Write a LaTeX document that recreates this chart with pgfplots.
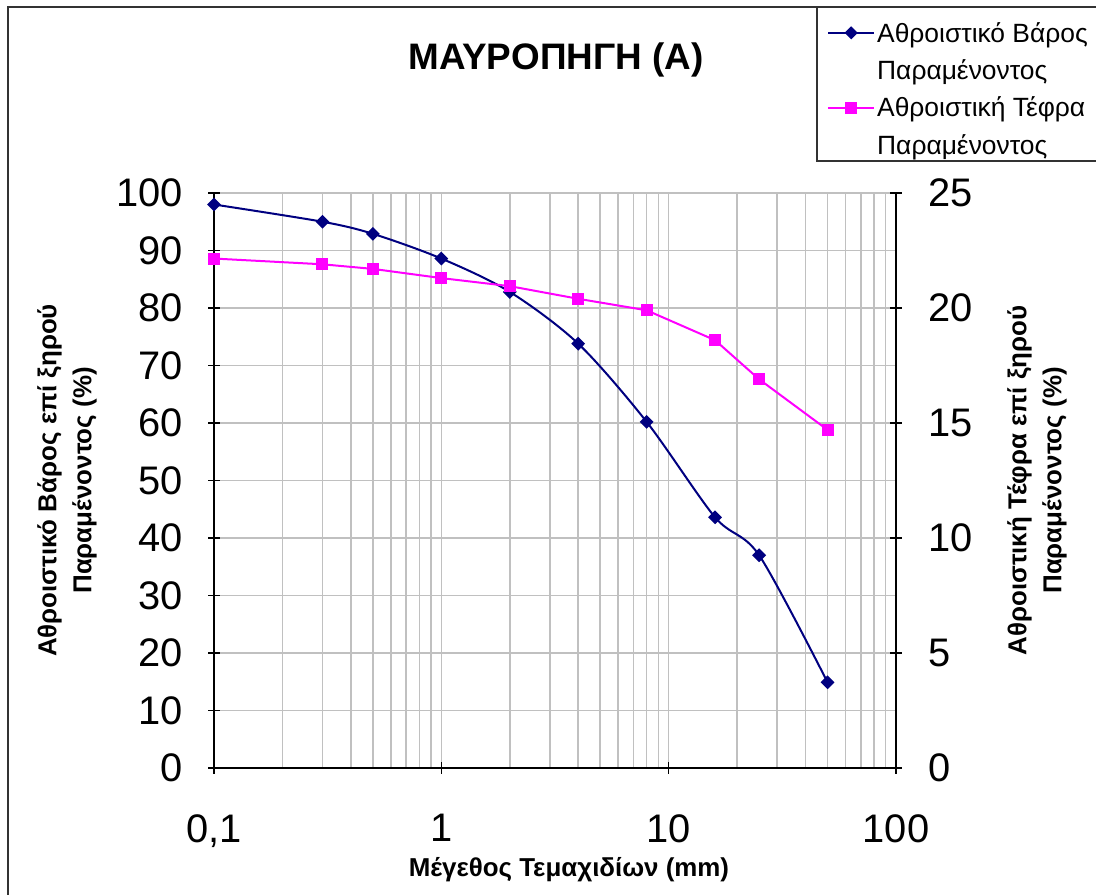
\documentclass[border=0pt]{standalone}
\usepackage{fontspec}
\setmainfont{Liberation Sans}
\usepackage{pgfplots}
\pgfplotsset{compat=1.18}
\definecolor{navyc}{RGB}{0,0,128}
\definecolor{magc}{RGB}{255,0,255}
\definecolor{gridc}{RGB}{192,192,192}
\begin{document}
\begin{tikzpicture}
\useasboundingbox (0,0) rectangle (1096bp,895bp);
\fill[white] (0,0) rectangle (1096bp,895bp);
\draw[line width=1.5bp, black!80] (8bp,-20bp) rectangle (1120bp,888bp);
\draw[line width=1.5bp, black!80] (817bp,734bp) rectangle (1120bp,888bp);
\node[font=\fontsize{37}{37}\selectfont\bfseries] at (556bp,835bp) {ΜΑΥΡΟΠΗΓΗ (Α)};
\begin{axis}[
  scale only axis, width=682bp, height=575bp,
  at={(214bp,127bp)}, anchor=south west,
  xmode=log, xmin=0.1, xmax=100, ymin=0, ymax=100,
  tick label style={font=\fontsize{40}{40}\selectfont, inner sep=0pt},
  xticklabel style={yshift=-40bp},
  yticklabel style={xshift=-25bp, /pgf/number format/assume math mode=true},
  tick style={black, line width=1.5bp},
  major tick length=12bp, minor tick length=0pt,
  tick align=outside,
  axis x line=bottom, axis y line=left,
  axis line style={-, black, line width=1.5bp},
  ytick={0,10,...,100},
  xtick={0.1,1,10,100}, xticklabels={{0,1},1,10,100},
  minor xtick={0.2,0.3,0.4,0.5,0.6,0.7,0.8,0.9,2,3,4,5,6,7,8,9,20,30,40,50,60,70,80,90},
  xmajorgrids, xminorgrids, ymajorgrids,
  major grid style={gridc, line width=1.5bp},
  minor grid style={gridc, line width=1.5bp},
  xlabel={Μέγεθος Τεμαχιδίων (mm)},
  ylabel={Αθροιστικό Βάρος επί ξηρού\\Παραμένοντος (\%)},
  xlabel style={font=\fontsize{26}{35}\selectfont\bfseries, at={(axis description cs:0.5205,-0.177)}, anchor=center},
  ylabel style={font=\fontsize{26}{35}\selectfont\bfseries, align=center, at={(axis description cs:-0.2155,0.5)}, anchor=center},
]
\addplot[navyc, line width=2bp, smooth, mark=diamond*, mark size=5.5bp, mark options={xscale=1.33, solid}]
coordinates {(0.1,98.0) (0.3,95.0) (0.5,92.9) (1,88.6) (2,82.8) (4,73.8) (8,60.2) (16,43.6) (25,37.0) (50,14.9)};
\end{axis}
\begin{axis}[
  scale only axis, width=682bp, height=575bp,
  at={(214bp,127bp)}, anchor=south west,
  xmode=log, xmin=0.1, xmax=100, ymin=0, ymax=25,
  tick label style={font=\fontsize{40}{40}\selectfont, inner sep=0pt},
  yticklabel style={xshift=26bp, /pgf/number format/assume math mode=true},
  tick style={black, line width=1.5bp},
  major tick length=12bp, minor tick length=0pt,
  tick align=outside,
  axis x line=none, axis y line=right,
  axis line style={-, black, line width=1.5bp},
  ytick={0,5,...,25}, xtick=\empty,
  ylabel={Αθροιστική Τέφρα επί ξηρού\\Παραμένοντος (\%)},
  ylabel style={font=\fontsize{26}{35}\selectfont\bfseries, align=center, at={(axis description cs:1.2067,0.5)}, anchor=center, rotate=0},
  legend style={at={(axis description cs:0.8988,1.3009)}, anchor=north west, draw=none, fill=none, inner sep=0pt,
    font=\fontsize{26.5}{26.5}\selectfont, row sep=12bp},
  legend cell align=left,
  legend image code/.code={\draw[mark repeat=2,mark phase=2] plot coordinates {(0bp,0bp) (23bp,0bp) (46bp,0bp)};},
]
\addlegendimage{navyc, line width=1.5bp, mark=diamond*, mark size=5.5bp, mark options={xscale=1.33, solid}}
\addlegendimage{empty legend}
\addplot[magc, line width=2bp, mark=square*, mark size=5bp, mark options={solid}]
coordinates {(0.1,22.15) (0.3,21.9) (0.5,21.7) (1,21.3) (2,20.95) (4,20.4) (8,19.9) (16,18.6) (25,16.9) (50,14.7)};
\addlegendimage{empty legend}
\legend{Αθροιστικό Βάρος, Παραμένοντος, Αθροιστική Τέφρα, Παραμένοντος}
\end{axis}
\end{tikzpicture}
\end{document}
